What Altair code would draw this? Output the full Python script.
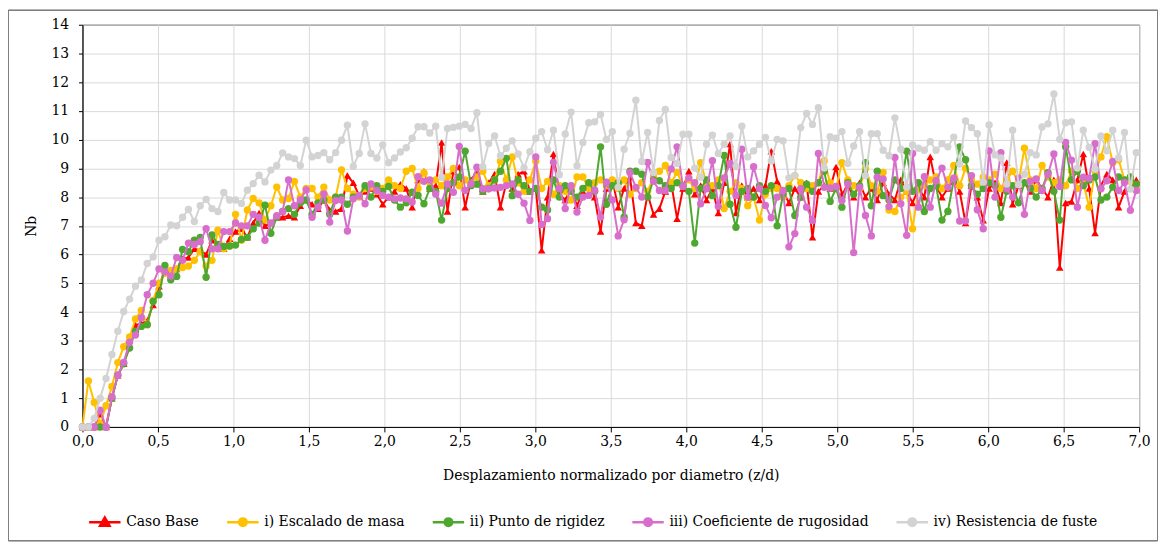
import altair as alt
import pandas as pd

STEP = 0.039
SERIES = ["Caso Base", "i) Escalado de masa", "ii) Punto de rigidez",
          "iii) Coeficiente de rugosidad", "iv) Resistencia de fuste"]
COLORS = ["#FF0000", "#FFC000", "#4EA72E", "#D86ECC", "#D3D3D3"]
X_TICKS = [0.0, 0.5, 1.0, 1.5, 2.0, 2.5, 3.0, 3.5, 4.0, 4.5, 5.0, 5.5, 6.0, 6.5, 7.0]
Y_TICKS = list(range(0, 15))

caso_base = [
    0, 0, 0, 0.45, 0, 1.0, 1.8, 2.2, 2.85, 3.55, 3.6, 3.7, 4.25, 4.9, 5.45, 5.3, 5.5, 5.85, 5.9, 6.2,
    6.15, 6.0, 6.5, 6.3, 6.2, 6.55, 6.8, 6.9, 6.6, 7.1, 7.45, 7.0, 7.1, 7.3, 7.3, 7.35, 7.3, 7.7, 7.9, 7.75,
    7.6, 7.9, 7.55, 7.5, 7.6, 8.75, 8.5, 8.05, 8.2, 8.3, 8.1, 7.75, 8.0, 8.2, 8.45, 8.3, 7.65, 8.6, 8.9, 8.3,
    8.4, 9.9, 7.5, 8.9, 9.05, 7.65, 8.6, 8.9, 8.2, 8.5, 8.8, 7.65, 8.5, 8.3, 8.8, 8.9, 8.2, 8.3, 6.15, 8.0,
    9.5, 8.1, 7.9, 8.3, 7.7, 8.2, 8.5, 8.0, 6.8, 8.3, 8.6, 7.65, 8.3, 8.7, 7.1, 7.0, 8.1, 7.4, 7.6, 8.2,
    8.5, 7.25, 8.3, 8.9, 8.1, 8.4, 7.9, 8.3, 7.45, 8.5, 9.85, 7.45, 8.4, 8.0, 8.3, 7.9, 8.4, 9.6, 8.55, 8.2,
    7.8, 8.3, 8.0, 8.5, 6.6, 8.2, 8.4, 8.3, 9.05, 8.1, 8.4, 8.0, 8.5, 8.0, 8.3, 7.9, 8.5, 8.1, 7.9, 8.6,
    8.2, 7.8, 8.3, 8.0, 9.4, 8.4, 8.0, 8.3, 8.6, 8.2, 7.1, 8.4, 8.0, 7.2, 8.3, 8.5, 7.8, 9.2, 7.75, 8.4,
    8.5, 8.2, 8.6, 8.3, 8.0, 8.6, 5.55, 7.8, 7.85, 8.6, 9.5, 8.3, 6.75, 8.4, 8.8, 8.6, 7.65, 8.2, 8.3, 8.6,
]
escalado_masa = [
    0, 1.6, 0.85, 0.1, 0.74, 1.41, 2.24, 2.79, 3.13, 3.76, 4.06, 3.56, 4.4, 5.0, 5.35, 5.45, 5.5, 5.55, 5.6, 5.8,
    6.1, 5.6, 5.8, 6.85, 6.2, 6.3, 7.4, 6.5, 7.55, 7.95, 7.8, 7.2, 7.7, 8.35, 7.9, 7.95, 8.55, 8.0, 8.3, 8.3,
    8.0, 8.35, 7.9, 8.0, 8.95, 8.3, 8.1, 8.0, 8.3, 8.35, 8.2, 8.3, 8.6, 8.4, 8.3, 8.9, 9.0, 8.3, 8.85, 8.5,
    8.6, 8.4, 8.7, 9.0, 8.4, 8.6, 8.5, 8.7, 8.9, 8.4, 8.6, 9.25, 8.6, 9.4, 8.5, 8.2, 8.6, 9.25, 8.3, 8.55,
    8.1, 8.4, 8.2, 7.9, 8.7, 8.7, 8.3, 8.5, 8.6, 8.4, 8.6, 8.3, 8.6, 8.1, 8.3, 8.5, 8.2, 8.7, 8.9, 9.1,
    8.5, 8.86, 8.4, 8.6, 8.3, 9.2, 8.5, 8.4, 8.6, 7.6, 8.2, 8.5, 8.3, 7.7, 8.0, 7.2, 8.1, 8.3, 8.3, 8.0,
    8.4, 8.75, 8.5, 8.3, 8.4, 8.5, 9.27, 8.5, 8.3, 9.2, 8.6, 8.4, 8.3, 9.0, 8.4, 8.2, 8.86, 7.55, 7.5, 8.0,
    8.2, 6.9, 8.3, 8.4, 8.6, 8.7, 8.3, 8.6, 9.1, 8.4, 9.0, 8.6, 8.45, 8.7, 8.6, 8.8, 8.3, 8.6, 8.9, 8.5,
    9.7, 8.6, 8.3, 9.1, 8.7, 8.5, 8.6, 8.4, 8.9, 8.3, 8.5, 7.65, 8.9, 9.4, 10.1, 9.2, 9.3, 8.6, 8.55, 8.4,
]
punto_rigidez = [
    0, 0, 0, 0, 0, 1.0, 1.8, 2.2, 2.75, 3.33, 3.5, 3.56, 4.37, 4.6, 5.62, 5.12, 5.24, 6.18, 6.1, 6.5,
    6.6, 5.21, 6.68, 6.35, 6.28, 6.3, 6.33, 6.53, 6.6, 6.9, 7.1, 7.72, 6.74, 7.3, 7.5, 7.6, 7.4, 7.8, 7.9, 7.4,
    7.8, 7.9, 7.4, 8.0, 8.0, 7.75, 8.0, 8.05, 8.4, 8.0, 8.4, 8.2, 8.37, 7.9, 7.65, 7.8, 8.17, 8.06, 7.77, 8.3,
    8.2, 7.2, 8.3, 8.5, 8.7, 9.6, 8.4, 8.45, 8.2, 8.3, 8.6, 8.9, 9.35, 8.05, 8.6, 8.4, 8.2, 8.3, 7.65, 7.55,
    8.6, 8.0, 8.4, 8.2, 8.0, 8.3, 8.5, 8.2, 9.75, 7.75, 8.4, 8.5, 7.3, 8.9, 8.9, 8.8, 8.0, 8.6, 8.57, 8.4,
    8.3, 8.5, 8.4, 8.2, 6.4, 8.3, 8.6, 8.05, 8.4, 9.45, 7.75, 6.95, 8.2, 8.3, 8.0, 8.4, 8.2, 8.4, 7.0, 8.1,
    8.3, 7.36, 8.0, 8.45, 8.2, 8.5, 8.9, 7.85, 8.3, 7.65, 8.5, 8.1, 8.4, 9.2, 7.7, 8.9, 8.05, 7.9, 8.6, 8.3,
    9.6, 8.2, 8.5, 7.5, 8.3, 8.4, 7.2, 7.5, 8.6, 9.75, 9.3, 8.4, 8.1, 8.3, 8.5, 8.4, 7.3, 8.2, 8.4, 7.8,
    8.5, 8.3, 8.0, 8.3, 8.85, 8.2, 7.2, 9.75, 8.6, 8.9, 8.4, 8.6, 8.7, 7.9, 8.0, 8.35, 8.7, 8.6, 8.7, 8.45,
]
coef_rugosidad = [
    0, 0, 0, 0.58, 0, 1.05, 1.8, 2.25, 2.95, 3.2, 3.8, 4.6, 5.0, 5.5, 5.4, 5.25, 5.9, 5.8, 6.4, 6.35,
    6.45, 6.9, 6.2, 6.2, 6.8, 6.8, 7.1, 7.0, 7.0, 7.4, 7.3, 6.5, 7.1, 7.35, 7.5, 8.6, 7.7, 7.9, 8.25, 7.3,
    7.65, 8.11, 7.13, 7.88, 7.9, 6.82, 7.94, 8.06, 7.77, 8.46, 8.23, 8.06, 8.0, 7.94, 7.97, 7.94, 7.83, 8.71, 8.55, 8.6,
    8.11, 7.79, 8.46, 8.17, 9.76, 8.23, 8.46, 9.04, 8.29, 8.29, 8.32, 8.34, 8.4, 8.46, 8.1, 7.79, 7.19, 9.4, 7.05, 7.25,
    9.21, 8.3, 7.6, 8.4, 7.48, 8.0, 8.06, 8.25, 7.31, 8.52, 7.9, 6.65, 7.21, 8.86, 8.34, 8.0, 9.21, 8.55, 8.23, 8.23,
    8.98, 9.75, 8.37, 8.67, 8.5, 7.77, 8.29, 9.27, 7.68, 8.67, 9.17, 8.06, 9.67, 8.0, 9.06, 8.3, 7.71, 7.28, 8.0, 8.23,
    6.27, 6.73, 8.29, 7.65, 7.19, 9.52, 8.34, 8.32, 8.37, 7.88, 8.46, 6.07, 8.34, 7.36, 6.65, 8.69, 8.63, 7.67, 9.38, 7.77,
    6.67, 9.52, 7.65, 8.71, 7.65, 8.57, 9.01, 8.34, 8.66, 7.17, 7.17, 8.75, 7.56, 6.9, 9.61, 8.0, 9.55, 8.29, 8.0, 8.66,
    7.4, 8.55, 8.63, 8.23, 8.8, 9.5, 8.37, 9.9, 9.29, 7.65, 8.69, 8.66, 9.86, 8.29, 8.57, 9.24, 8.23, 8.51, 7.54, 8.23,
]
resistencia_fuste = [
    0, 0, 0.3, 1.0, 1.69, 2.52, 3.33, 4.02, 4.45, 4.9, 5.12, 5.69, 5.92, 6.5, 6.62, 7.03, 7.0, 7.3, 7.57, 7.15,
    7.7, 7.92, 7.6, 7.5, 8.16, 7.9, 7.9, 7.78, 8.24, 8.47, 8.76, 8.53, 8.94, 9.1, 9.54, 9.4, 9.34, 9.1, 9.98, 9.4,
    9.45, 9.55, 9.3, 9.55, 9.98, 10.5, 9.07, 9.52, 10.55, 9.52, 9.36, 9.82, 9.2, 9.36, 9.57, 9.72, 10.05, 10.45, 10.45, 10.23,
    10.47, 8.69, 10.39, 10.43, 10.47, 10.53, 10.39, 10.94, 9.06, 9.87, 10.13, 9.44, 9.7, 9.96, 9.5, 9.02, 9.58, 10.05, 10.28, 9.65,
    10.33, 8.78, 10.2, 10.96, 9.09, 9.9, 10.59, 10.62, 10.88, 10.01, 10.28, 8.34, 9.67, 10.22, 11.37, 9.24, 10.25, 8.86, 10.67, 11.05,
    9.38, 9.17, 10.19, 10.19, 9.01, 8.69, 9.84, 10.16, 9.52, 9.84, 10.13, 9.06, 10.47, 9.4, 9.61, 9.84, 10.08, 9.26, 10.01, 9.96,
    8.67, 8.75, 10.42, 10.91, 10.53, 11.11, 9.01, 10.1, 10.05, 10.28, 9.17, 9.78, 10.28, 8.75, 10.21, 10.21, 9.63, 9.44, 10.76, 9.67,
    8.34, 9.82, 9.7, 9.63, 9.93, 9.63, 9.86, 9.75, 10.09, 9.15, 10.65, 10.42, 10.21, 8.52, 10.51, 9.47, 9.36, 8.46, 10.33, 8.43,
    8.8, 9.55, 9.47, 10.44, 10.55, 11.59, 10.01, 10.59, 10.62, 9.01, 10.33, 9.73, 8.98, 10.13, 9.61, 10.33, 9.36, 10.25, 8.28, 9.55,
]

ALL = [caso_base, escalado_masa, punto_rigidez, coef_rugosidad, resistencia_fuste]
for s in ALL:
    assert len(s) == 180, len(s)

rows = []
for name, vals in zip(SERIES, ALL):
    for i, v in enumerate(vals):
        rows.append({"serie": name, "x": round(i * STEP, 4), "y": v})
df = pd.DataFrame(rows)

FONT = "DejaVu Serif"
FS = 14
x_enc = alt.X("x:Q", scale=alt.Scale(domain=[0, 7], nice=False),
              axis=alt.Axis(values=X_TICKS, title="Desplazamiento normalizado por diametro (z/d)",
                            labelExpr="replace(format(datum.value, '.1f'), '.', ',')",
                            labelFlush=False, tickSize=5, labelPadding=3, titlePadding=20))
y_enc = alt.Y("y:Q", scale=alt.Scale(domain=[0, 14], nice=False),
              axis=alt.Axis(values=Y_TICKS, title="Nb", tickSize=4, labelPadding=10,
                            titlePadding=12, labelFlush=False))

layers = []
for name, col in zip(SERIES, COLORS):
    base = alt.Chart(df).transform_filter(alt.datum.serie == name)
    layers.append(base.mark_line(color=col, strokeWidth=2).encode(x=x_enc, y=y_enc))
    shape = "triangle-up" if name == "Caso Base" else "circle"
    size = 58 if name == "Caso Base" else 55
    layers.append(base.mark_point(color=col, filled=True, opacity=1, shape=shape, size=size)
                  .encode(x=x_enc, y=y_enc))

CIRCLE = "M-1,0L1,0M-0.24,0A0.24,0.24,0,1,0,0.24,0A0.24,0.24,0,1,0,-0.24,0Z"
TRI = "M-1,0L1,0M0,-0.3L0.3,0.22L-0.3,0.22Z"
PATHS = [TRI, CIRCLE, CIRCLE, CIRCLE, CIRCLE]

leg = alt.Legend(orient="none", legendX=5, legendY=483, direction="horizontal", title=None,
                 symbolSize=1000, symbolStrokeWidth=2.5, symbolOpacity=1, labelFont=FONT,
                 labelFontSize=FS, labelColor="black", labelLimit=400, columnPadding=22,
                 labelOffset=4)
legend_df = pd.DataFrame({"serie": SERIES, "x": [-1.0] * 5, "y": [-1.0] * 5})
legend_layer = alt.Chart(legend_df).mark_point(filled=True, clip=True, opacity=1).encode(
    x=x_enc, y=y_enc,
    fill=alt.Fill("serie:N", scale=alt.Scale(domain=SERIES, range=COLORS), legend=leg),
    stroke=alt.Stroke("serie:N", scale=alt.Scale(domain=SERIES, range=COLORS), legend=leg),
    shape=alt.Shape("serie:N", scale=alt.Scale(domain=SERIES, range=PATHS), legend=leg),
)

border = alt.Chart(legend_df).mark_rect(fill=None, stroke="#7f7f7f", strokeWidth=1).encode(
    x=alt.value(-74.5), x2=alt.value(1082.5), y=alt.value(-14.5), y2=alt.value(519.5))

chart = alt.layer(*layers, legend_layer, border).properties(
    width=1064, height=405,
    autosize=alt.AutoSizeParams(type="none"),
    padding={"left": 75, "top": 15, "right": 20, "bottom": 116},
    background="white",
).configure(font=FONT).configure_view(stroke="black", strokeWidth=1).configure_axis(
    labelFont=FONT, labelFontSize=FS, labelColor="black", titleFont=FONT, titleFontSize=FS,
    titleColor="black", titleFontWeight="normal", gridColor="#d9d9d9", gridWidth=1,
    domainColor="black", tickColor="black", domainWidth=1,
).configure_legend(labelFont=FONT)

chart.save("out.html", embed_options={"renderer": "svg", "actions": False})
